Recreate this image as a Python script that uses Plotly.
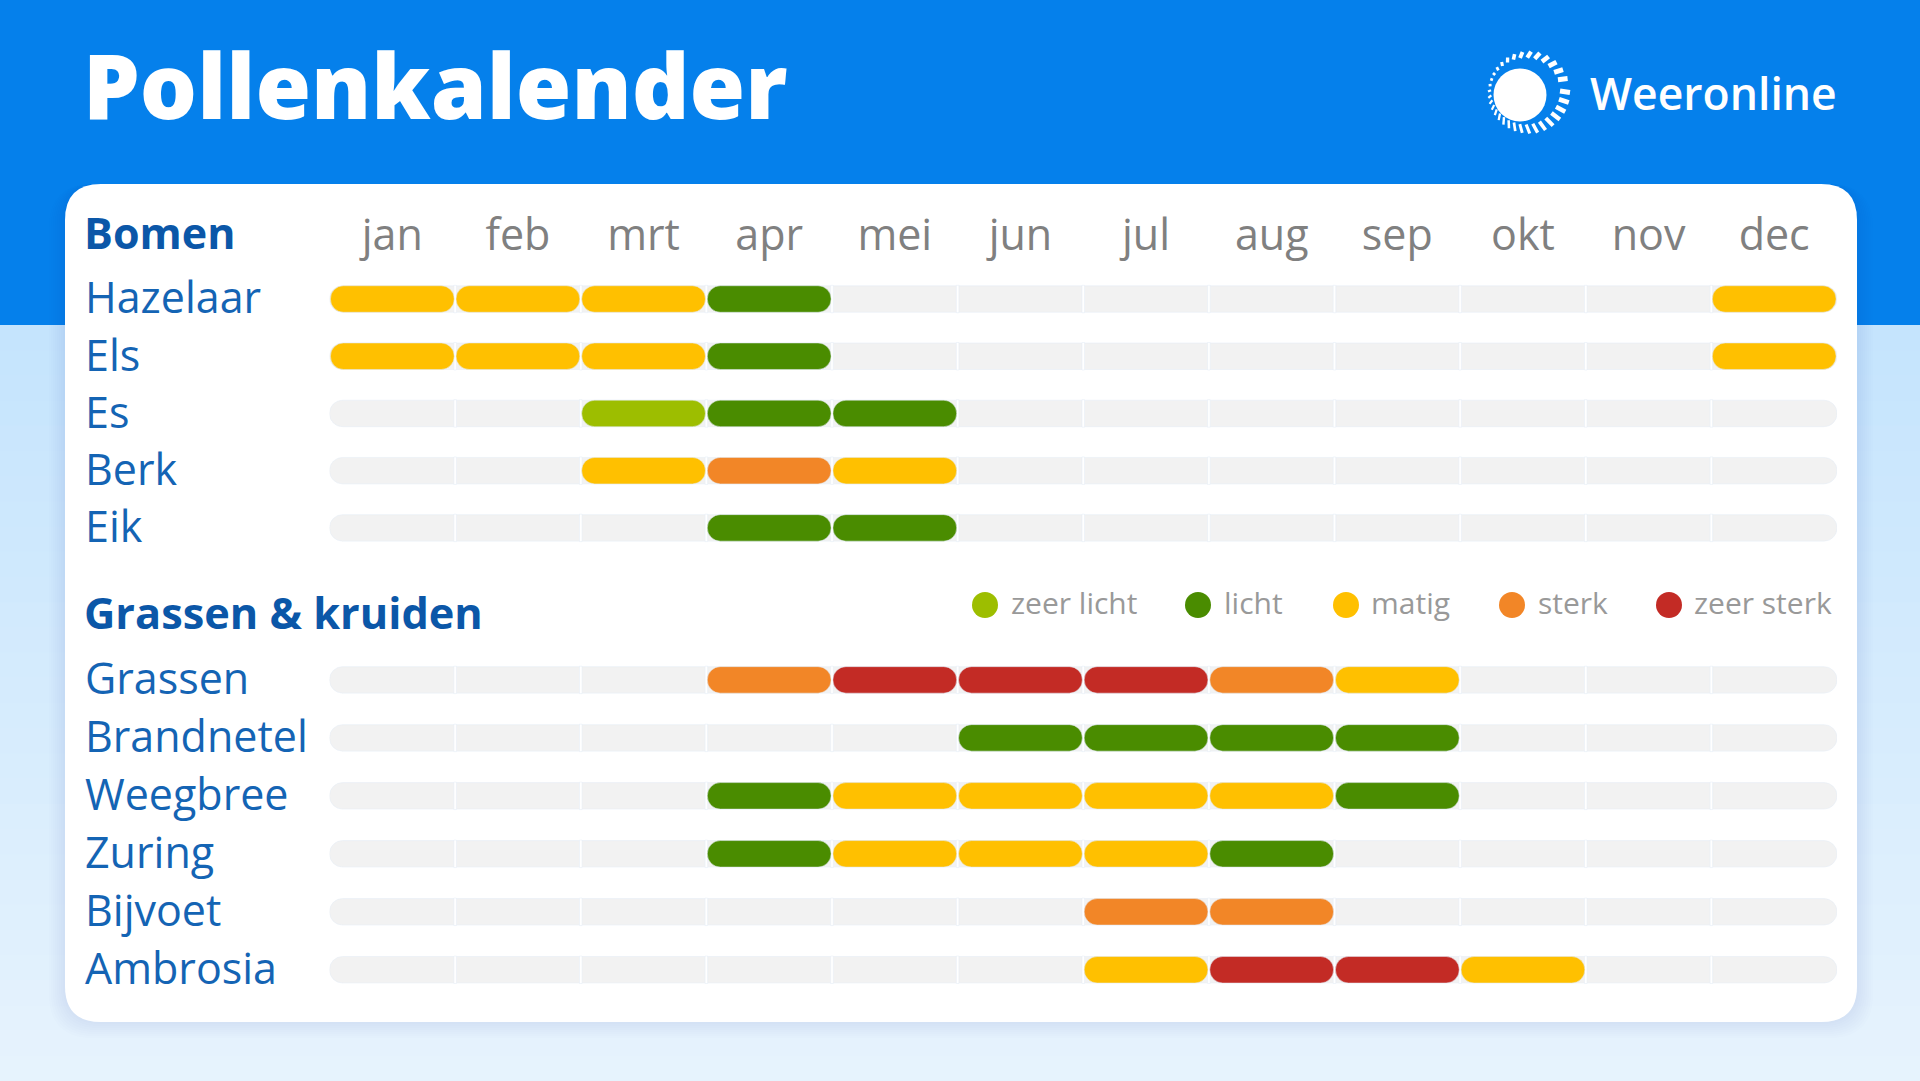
import math
import plotly.graph_objects as go

W, H = 1920, 1081

months = ['jan', 'feb', 'mrt', 'apr', 'mei', 'jun', 'jul', 'aug', 'sep', 'okt', 'nov', 'dec']
level_names = ['zeer licht', 'licht', 'matig', 'sterk', 'zeer sterk']

# 0 = geen pollen, 1..5 = index in level_names + 1
bomen = ['Hazelaar', 'Els', 'Es', 'Berk', 'Eik']
bomen_levels = [
    [3, 3, 3, 2, 0, 0, 0, 0, 0, 0, 0, 3],
    [3, 3, 3, 2, 0, 0, 0, 0, 0, 0, 0, 3],
    [0, 0, 1, 2, 2, 0, 0, 0, 0, 0, 0, 0],
    [0, 0, 3, 4, 3, 0, 0, 0, 0, 0, 0, 0],
    [0, 0, 0, 2, 2, 0, 0, 0, 0, 0, 0, 0],
]
grassen = ['Grassen', 'Brandnetel', 'Weegbree', 'Zuring', 'Bijvoet', 'Ambrosia']
grassen_levels = [
    [0, 0, 0, 4, 5, 5, 5, 4, 3, 0, 0, 0],
    [0, 0, 0, 0, 0, 2, 2, 2, 2, 0, 0, 0],
    [0, 0, 0, 2, 3, 3, 3, 3, 2, 0, 0, 0],
    [0, 0, 0, 2, 3, 3, 3, 2, 0, 0, 0, 0],
    [0, 0, 0, 0, 0, 0, 4, 4, 0, 0, 0, 0],
    [0, 0, 0, 0, 0, 0, 3, 5, 5, 3, 0, 0],
]

level_colors = ['#9DBE00', '#4A8C00', '#FFC000', '#F28627', '#C32B25']
BLUE = '#0580EB'
GREY = '#F2F2F2'
ROW_TEXT = '#1464B4'
HEAD_TEXT = '#0B57A8'
FONT = 'Open Sans'

# page layout in pixels
PLOT_LEFT, PLOT_RIGHT = 329.5, 1837
ROW_TOP, ROW_PITCH = 299, 57.8
GROUP_GAP = 1.59
BAR_PX = 26.5
PILL = 0.985


def px(x):
    return x / W


def py(y):
    return 1 - y / H


def rounded_rect(x0, y0, x1, y1, r):
    return (f'M {px(x0 + r)} {py(y0)} L {px(x1 - r)} {py(y0)} Q {px(x1)} {py(y0)} {px(x1)} {py(y0 + r)} '
            f'L {px(x1)} {py(y1 - r)} Q {px(x1)} {py(y1)} {px(x1 - r)} {py(y1)} '
            f'L {px(x0 + r)} {py(y1)} Q {px(x0)} {py(y1)} {px(x0)} {py(y1 - r)} '
            f'L {px(x0)} {py(y0 + r)} Q {px(x0)} {py(y0)} {px(x0 + r)} {py(y0)} Z')


def lerp_color(a, b, t):
    return 'rgb(' + ','.join(str(round(a[i] + (b[i] - a[i]) * t)) for i in range(3)) + ')'


names = bomen + grassen
levels = bomen_levels + grassen_levels
row_y = [i * 0.99 for i in range(len(bomen))] + [i * 1.003 + len(bomen) + GROUP_GAP for i in range(len(grassen))]

fig = go.Figure()

# grey background pill per row
fig.add_trace(go.Bar(
    orientation='h', y=row_y, x=[12] * len(row_y), base=[0] * len(row_y),
    width=BAR_PX / ROW_PITCH, marker=dict(color=GREY, cornerradius=13),
    hoverinfo='skip', showlegend=False,
))

# white month separators
sep_y, sep_base = [], []
for y in row_y:
    for m in range(1, 12):
        sep_y.append(y)
        sep_base.append(m - 0.01)
fig.add_trace(go.Bar(
    orientation='h', y=sep_y, x=[0.02] * len(sep_y), base=sep_base,
    width=(BAR_PX + 1) / ROW_PITCH, marker=dict(color='white'),
    hoverinfo='skip', showlegend=False,
))

# one trace per pollen level
for lvl, (name, color) in enumerate(zip(level_names, level_colors), start=1):
    ys, bases = [], []
    for y, row in zip(row_y, levels):
        for m, v in enumerate(row):
            if v == lvl:
                ys.append(y)
                bases.append(m + (1 - PILL) / 2)
    fig.add_trace(go.Bar(
        orientation='h', y=ys, x=[PILL] * len(ys), base=bases, name=name,
        width=BAR_PX / ROW_PITCH, marker=dict(color=color, cornerradius=13),
        showlegend=False, hovertemplate='%{y}<extra>' + name + '</extra>',
    ))

shapes = []

# page background, every band runs to the bottom so no seams show
steps = 30
for i in range(steps):
    y0 = 325 + (H - 325) * i / steps
    shapes.append(dict(type='rect', xref='paper', yref='paper', x0=0, x1=1, y0=0, y1=py(y0),
                       fillcolor=lerp_color((197, 228, 253), (230, 243, 253), i / (steps - 1)),
                       line_width=0, layer='below'))

# card shadow + card
for s in range(8, 0, -1):
    shapes.append(dict(type='path', xref='paper', yref='paper', layer='below', line_width=0,
                       path=rounded_rect(65 - s * 2, 184, 1857 + s * 2, 1022 + s * 2, 36 + s),
                       fillcolor='rgba(60,120,170,0.012)'))
shapes.append(dict(type='path', xref='paper', yref='paper', layer='below', line_width=0,
                   path=rounded_rect(65, 184, 1857, 1022, 36), fillcolor='white'))

# logo: disc with a ring of dashes that get heavier and wider apart to the right
shapes.append(dict(type='circle', xref='paper', yref='paper', layer='below', line_width=0, fillcolor='white',
                   x0=px(1520 - 26.5), x1=px(1520 + 26.5), y0=py(95 + 26.5), y1=py(95 - 26.5)))
a = 0.0
while a < 2 * math.pi - 0.1:
    ca, sa = math.cos(a), math.sin(a)
    xo, yo = 1529 + 41 * ca, 92.5 + 41 * sa
    xi, yi = 1525.5 + 34.5 * ca, 91 + 33.5 * sa
    heavy = (1 + math.cos(a + 0.35)) / 2
    shapes.append(dict(type='line', xref='paper', yref='paper', layer='below',
                       x0=px(xi), x1=px(xo), y0=py(yi), y1=py(yo),
                       line=dict(color='white', width=2.2 + 2.8 * heavy)))
    a += (6.2 + 4.0 * heavy) / 41

annotations = []


def add_text(text, x, y, size, color, weight=None):
    font = dict(family=FONT, size=size, color=color)
    if weight:
        font['weight'] = weight
    annotations.append(dict(
        text=text, xref='paper', yref='paper', x=px(x), y=py(y), xanchor='left', yanchor='middle',
        showarrow=False, borderpad=0, font=font,
    ))


add_text('Weeronline', 1589, 92, 44.5, 'white', weight=600)
add_text('Bomen', 83, 232, 43, HEAD_TEXT, weight=700)
add_text('Grassen &amp; kruiden', 83, 612, 43.3, HEAD_TEXT, weight=700)

for name, y in zip(names, row_y):
    annotations.append(dict(
        text=name, xref='paper', yref='y', x=px(83), y=y, xanchor='left', yanchor='middle',
        showarrow=False, yshift=2, font=dict(family=FONT, size=43, color=ROW_TEXT),
    ))

# legend
legend_dots = [985, 1198, 1346, 1512, 1669]
legend_text = [1010, 1223, 1370, 1537, 1693]
for name, color, dx, tx in zip(level_names, level_colors, legend_dots, legend_text):
    shapes.append(dict(type='circle', xref='paper', yref='paper', layer='below', line_width=0, fillcolor=color,
                       x0=px(dx - 13), x1=px(dx + 13), y0=py(605 + 13), y1=py(605 - 13)))
    add_text(name, tx, 602, 30, '#999999')

y_top = ROW_TOP - 0.5 * ROW_PITCH
y_last = row_y[-1] + 0.5
y_bottom = ROW_TOP + y_last * ROW_PITCH

fig.update_layout(
    width=W, height=H,
    margin=dict(l=0, r=0, t=0, b=0),
    paper_bgcolor=BLUE, plot_bgcolor='rgba(0,0,0,0)',
    barmode='overlay', showlegend=False,
    title=dict(text='Pollenkalender', x=px(83), xanchor='left', y=py(87), yanchor='middle',
               xref='container', yref='container',
               font=dict(family=FONT, size=90, color='white', weight=800)),
    xaxis=dict(domain=[px(PLOT_LEFT), px(PLOT_RIGHT)], range=[0, 12], side='top', anchor='y',
               tickmode='array', tickvals=[i + 0.5 for i in range(12)], ticktext=months,
               tickfont=dict(family=FONT, size=43, color='#808080'), ticklabelstandoff=11,
               showgrid=False, zeroline=False, showline=False, ticklen=0),
    yaxis=dict(domain=[py(y_bottom), py(y_top)], range=[y_last, -0.5], visible=False),
    shapes=shapes, annotations=annotations,
)

fig.write_html('out.html', config=dict(displayModeBar=False),
               post_script="document.body.style.margin='0';document.body.style.overflow='hidden';")
